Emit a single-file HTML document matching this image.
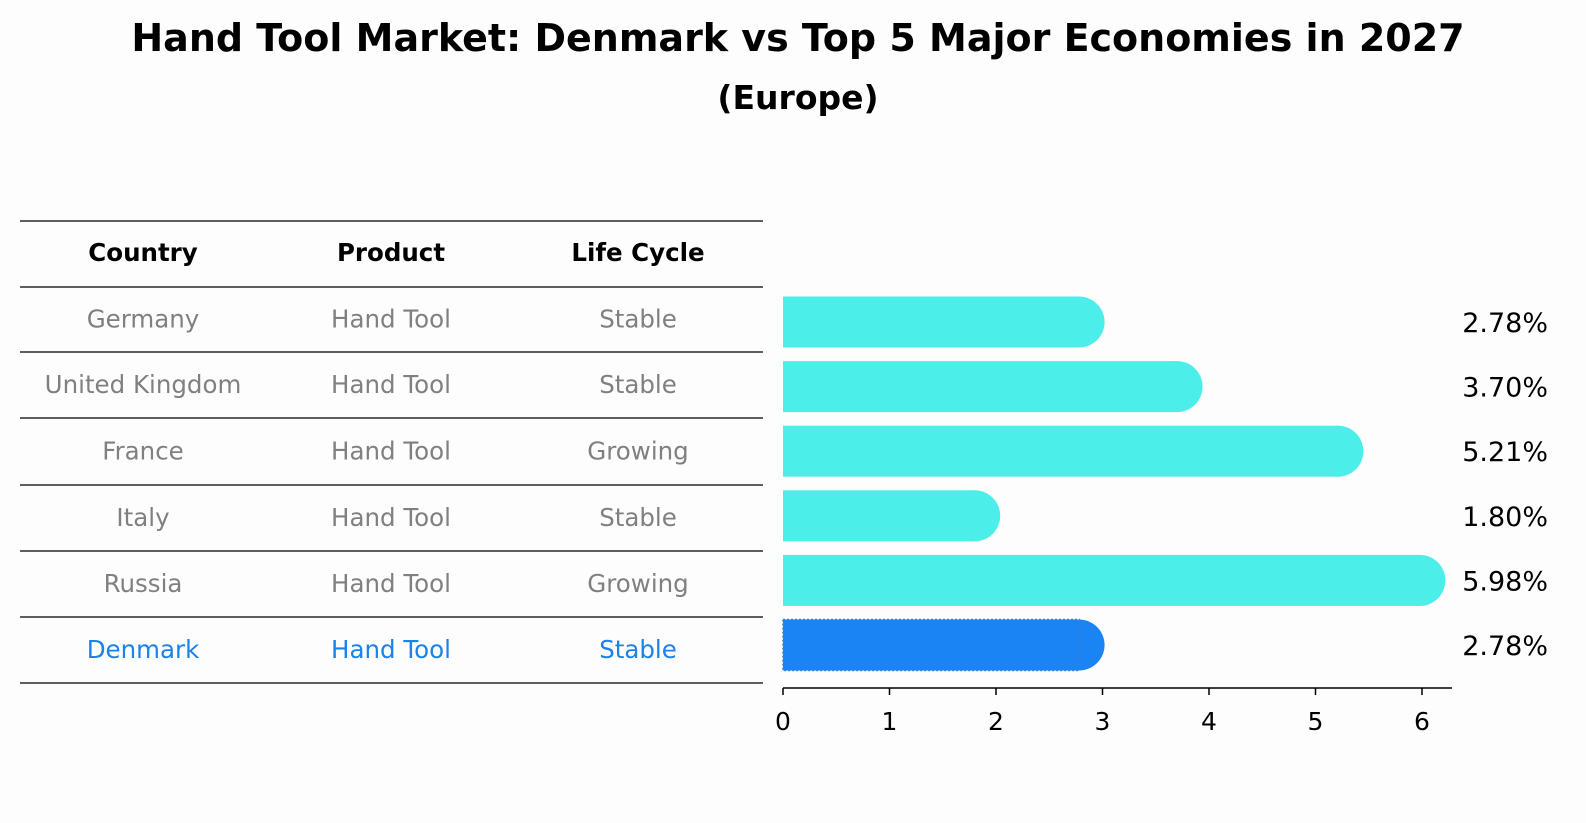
<!DOCTYPE html>
<html><head><meta charset="utf-8"><style>
body{margin:0;background:#fdfdfd;}
svg{display:block;font-family:"DejaVu Sans","Liberation Sans",sans-serif;}
</style></head><body>
<svg id="c" width="1586" height="823" viewBox="0 0 1586 823">
<text x="798" y="51" text-anchor="middle" font-size="38" font-weight="bold">Hand Tool Market: Denmark vs Top 5 Major Economies in 2027</text>
<text x="798" y="109" text-anchor="middle" font-size="33" font-weight="bold">(Europe)</text>
<g id="tbl"></g>
<g id="bars"></g>
<g id="axis"></g>
</svg>
<script>
const countries=["Germany","United Kingdom","France","Italy","Russia","Denmark"];
const products=["Hand Tool","Hand Tool","Hand Tool","Hand Tool","Hand Tool","Hand Tool"];
const lifeCycles=["Stable","Stable","Growing","Stable","Growing","Stable"];
const values=[2.78,3.70,5.21,1.80,5.98,2.78];
const valueLabels=["2.78%","3.70%","5.21%","1.80%","5.98%","2.78%"];
const ticks=[0,1,2,3,4,5,6];
const NS="http://www.w3.org/2000/svg";
function mk(t,a,p){const e=document.createElementNS(NS,t);for(const k in a)e.setAttribute(k,a[k]);p.appendChild(e);return e;}
const x=v=>783+v*106.5;
const rowY=i=>322+i*64.6;
const tbl=document.getElementById('tbl'),bars=document.getElementById('bars'),axis=document.getElementById('axis');
const lines=[221,287,352,418,485,551,617,683];
lines.forEach(y=>{const l=mk('line',{x1:20,x2:763,y1:y,y2:y,stroke:'#000','stroke-width':1.2},tbl);

});
const cx=[143,391,638];
["Country","Product","Life Cycle"].forEach((h,j)=>{const t=mk('text',{x:cx[j],y:261,'text-anchor':'middle','font-size':24.5,'font-weight':'bold'},tbl);t.textContent=h;

});
countries.forEach((c,i)=>{
 const y=(lines[i+1]+lines[i+2])/2+8;
 const col=i===countries.length-1?'#1a82e8':'#808080';
 [c,products[i],lifeCycles[i]].forEach((v,j)=>{const t=mk('text',{x:cx[j],y:y,'text-anchor':'middle','font-size':24.5,fill:col},tbl);t.textContent=v;
 
 });
 const cy=rowY(i),h=51,den=i===countries.length-1;
 const fill=den?'#1a84f4':'#4ceee9';
 const g=mk('g',{},bars);
 
 
 mk('rect',{x:x(0),y:cy-h/2,width:x(values[i])-x(0),height:h,fill:fill},g);
 mk('circle',{cx:x(values[i]),cy:cy,r:h/2,fill:fill},g);
 if(den)mk('rect',{x:x(0),y:cy-h/2,width:x(values[i])-x(0),height:h,fill:'none',stroke:'#3a7fd0','stroke-width':1.5,'stroke-dasharray':'2 2'},g);
 const t=mk('text',{x:1548,y:cy+10,'text-anchor':'end','font-size':27},bars);t.textContent=valueLabels[i];
 
 
});
mk('line',{x1:x(0),x2:1452,y1:688,y2:688,stroke:'#000','stroke-width':1.5},axis);
ticks.forEach(v=>{mk('line',{x1:x(v),x2:x(v),y1:688,y2:695,stroke:'#000','stroke-width':1.5},axis);
 const t=mk('text',{x:x(v),y:730,'text-anchor':'middle','font-size':25},axis);t.textContent=v;
 
 });
</script>
</body></html>
